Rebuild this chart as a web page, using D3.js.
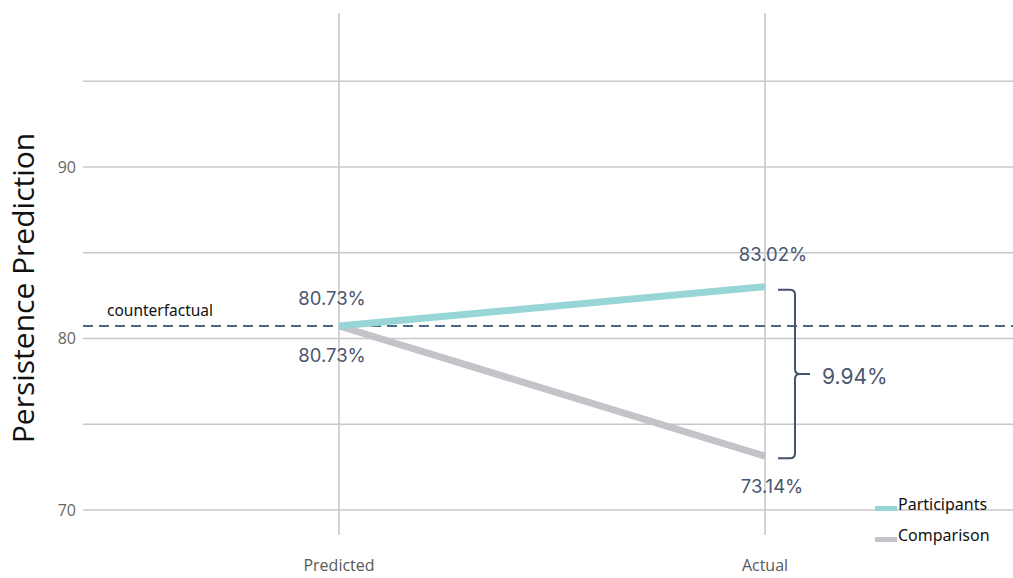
<!DOCTYPE html>
<html>
<head>
<meta charset="utf-8">
<script src="https://cdn.jsdelivr.net/npm/d3@7"></script>
<style>
  body { margin: 0; background: #fff; }
  svg { display: block; }
</style>
</head>
<body>
<svg id="chart" width="1013" height="578"></svg>
<script>
// Data
const categories = ["Predicted", "Actual"];
const participants = [80.73, 83.02];
const comparison = [80.73, 73.14];
const counterfactual = 80.73;
const gapLabel = "9.94%";
const yTicks = [70, 80, 90];
const yGrid = [70, 75, 80, 85, 90, 95];
const seriesNames = ["Participants", "Comparison"];
const seriesColors = ["#97d5d6", "#c3c3c9"];

const svg = d3.select("#chart");
const W = 1013;

const x = d3.scalePoint().domain(categories).range([339, 765]);
const y = d3.scaleLinear().domain([70, 90]).range([510, 167]);

// horizontal gridlines
svg.append("g").selectAll("line").data(yGrid).join("line")
  .attr("x1", 83).attr("x2", W)
  .attr("y1", d => y(d)).attr("y2", d => y(d))
  .attr("stroke", "#c8c8c8").attr("stroke-width", 1.3);

// vertical category lines
svg.append("g").selectAll("line").data(categories).join("line")
  .attr("x1", d => x(d)).attr("x2", d => x(d))
  .attr("y1", 13).attr("y2", 535)
  .attr("stroke", "#c8c8c8").attr("stroke-width", 1.6);

// y tick labels
svg.append("g").selectAll("text").data(yTicks).join("text")
  .attr("x", 76).attr("y", d => y(d))
  .attr("dy", "0.35em")
  .attr("text-anchor", "end")
  .attr("font-family", "'Open Sans', sans-serif")
  .attr("font-size", 16)
  .attr("fill", "#666")
  .text(d => d);

// x labels
svg.append("g").selectAll("text").data(categories).join("text")
  .attr("x", d => x(d)).attr("y", 571)
  .attr("text-anchor", "middle")
  .attr("font-family", "'Open Sans', sans-serif")
  .attr("font-size", 16)
  .attr("fill", "#595959")
  .text(d => d);

// y axis title
svg.append("text")
  .attr("transform", `translate(34,288) rotate(-90)`)
  .attr("text-anchor", "middle")
  .attr("font-family", "'Open Sans', sans-serif")
  .attr("font-size", 30)
  .attr("fill", "#111")
  .text("Persistence Prediction");

// counterfactual dashed line
svg.append("line")
  .attr("x1", 83).attr("x2", W)
  .attr("y1", y(counterfactual)).attr("y2", y(counterfactual))
  .attr("stroke", "#4d6a88").attr("stroke-width", 1.8)
  .attr("stroke-dasharray", "10,6");
svg.append("text")
  .attr("x", 107).attr("y", y(counterfactual) - 10)
  .attr("font-family", "'Noto Sans', sans-serif")
  .attr("font-size", 15.5)
  .attr("fill", "#111")
  .text("counterfactual");

// series lines
const line = d3.line().x((d, i) => x(categories[i])).y(d => y(d));
[comparison, participants].forEach((vals, k) => {
  svg.append("path")
    .datum(vals)
    .attr("d", line)
    .attr("fill", "none")
    .attr("stroke", k === 0 ? seriesColors[1] : seriesColors[0])
    .attr("stroke-width", 7)
    .attr("stroke-linecap", "butt");
});

// value labels
const labelFont = "'Inter', 'Noto Sans', sans-serif";
const labelColor = "#4b5670";
const valueLabels = [
  { x: x(categories[0]) - 7, y: y(participants[0]) - 21, v: participants[0] },
  { x: x(categories[0]) - 7, y: y(comparison[0]) + 36, v: comparison[0] },
  { x: x(categories[1]) + 8, y: y(participants[1]) - 26, v: participants[1] },
  { x: x(categories[1]) + 7, y: y(comparison[1]) + 37, v: comparison[1] }
];
svg.append("g").selectAll("text").data(valueLabels).join("text")
  .attr("x", d => d.x).attr("y", d => d.y)
  .attr("text-anchor", "middle")
  .attr("font-family", labelFont)
  .attr("font-size", 18.5)
  .attr("fill", labelColor)
  .text(d => d.v.toFixed(2) + "%");

// gap bracket
const bTop = y(participants[1]) + 3, bBot = y(comparison[1]) + 2;
const bx0 = 778, bx1 = 795, tip = 810, mid = (bTop + bBot) / 2;
const r = 5;
const bracket = d3.path();
bracket.moveTo(bx0, bTop);
bracket.lineTo(bx1 - r, bTop);
bracket.quadraticCurveTo(bx1, bTop, bx1, bTop + r);
bracket.lineTo(bx1, mid - r);
bracket.quadraticCurveTo(bx1, mid, bx1 + r, mid);
bracket.lineTo(tip, mid);
bracket.moveTo(bx1 + r, mid);
bracket.quadraticCurveTo(bx1, mid, bx1, mid + r);
bracket.lineTo(bx1, bBot - r);
bracket.quadraticCurveTo(bx1, bBot, bx1 - r, bBot);
bracket.lineTo(bx0, bBot);
svg.append("path")
  .attr("d", bracket.toString())
  .attr("fill", "none")
  .attr("stroke", "#46536c")
  .attr("stroke-width", 2);
svg.append("text")
  .attr("x", 822).attr("y", mid + 3)
  .attr("dy", "0.35em")
  .attr("font-family", labelFont)
  .attr("font-size", 21)
  .attr("fill", labelColor)
  .text(gapLabel);

// legend
const legend = svg.append("g").selectAll("g").data(seriesNames).join("g")
  .attr("transform", (d, i) => `translate(875,${507 + i * 31})`);
legend.append("rect")
  .attr("x", 0).attr("y", -1).attr("width", 22).attr("height", 5)
  .attr("fill", (d, i) => seriesColors[i]);
legend.append("text")
  .attr("x", 23).attr("y", 3)
  .attr("font-family", "'Noto Sans', sans-serif")
  .attr("font-size", 16)
  .attr("fill", "#111")
  .text(d => d);
</script>
</body>
</html>
